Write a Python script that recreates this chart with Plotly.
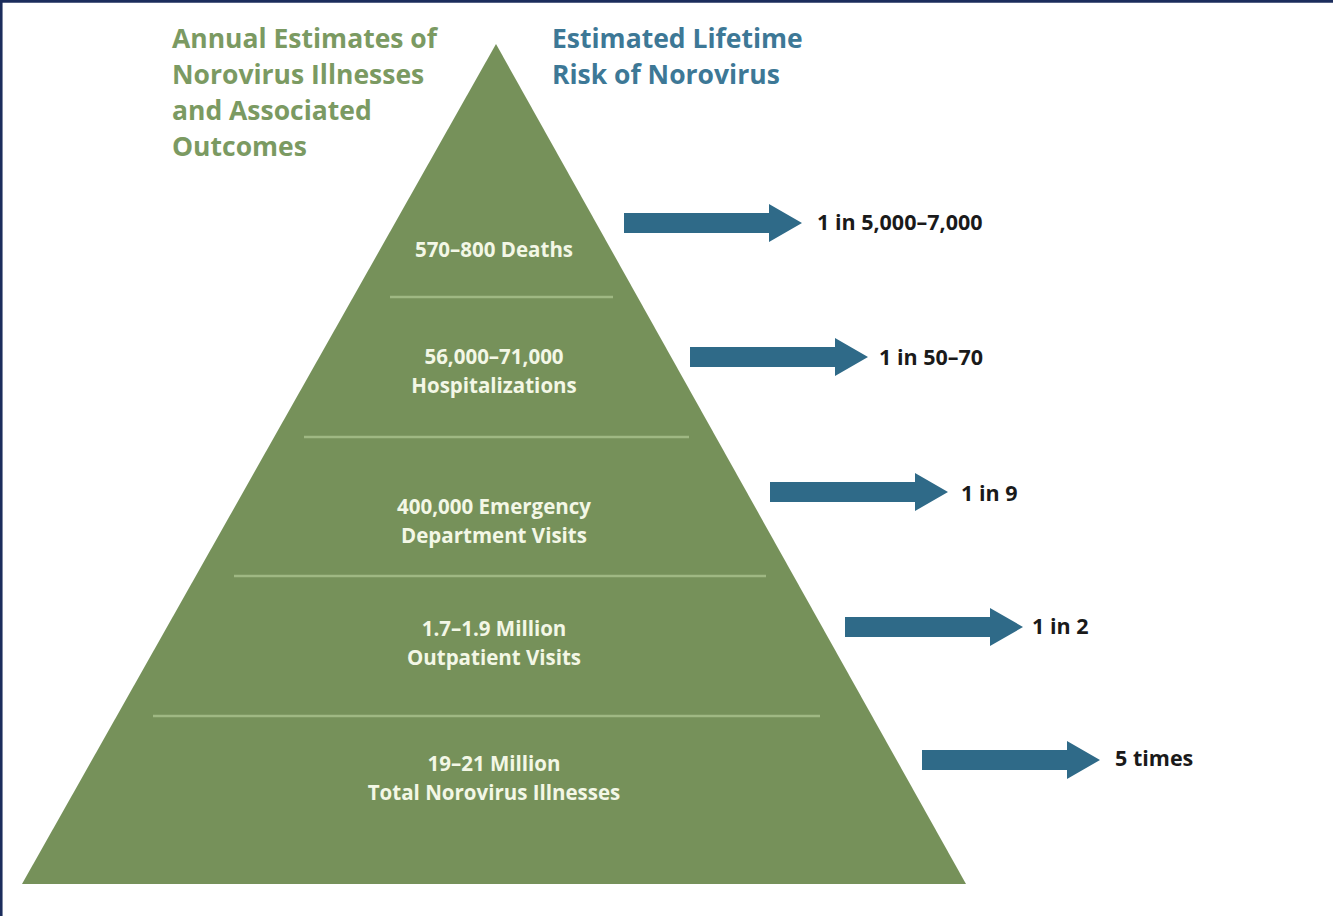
import plotly.graph_objects as go

# ---- data ----
outcome_labels = [
    "570–800 Deaths",
    "56,000–71,000<br>Hospitalizations",
    "400,000 Emergency<br>Department Visits",
    "1.7–1.9 Million<br>Outpatient Visits",
    "19–21 Million<br>Total Norovirus Illnesses",
]
risk_labels = ["1 in 5,000–7,000", "1 in 50–70", "1 in 9", "1 in 2", "5 times"]
left_title = "Annual Estimates of<br>Norovirus Illnesses<br>and Associated<br>Outcomes"
right_title = "Estimated Lifetime<br>Risk of Norovirus"

# ---- layout geometry (pixel space) ----
W, H = 1333, 916
apex = (496, 44)
base_y = 884
base_l, base_r = 22, 966
label_y = [251.5, 373, 523.5, 645, 780.5]
label_gap = 29
divider_y = [297, 437, 576, 716]
divider_x0 = [390, 304, 234, 153]
divider_x1 = [613, 689, 766, 820]
arrow_y = [223, 357, 492, 627, 760]
arrow_x0 = [624, 690, 770, 845, 922]
arrow_len = 178
risk_x = [817, 879, 961, 1032, 1115]
risk_y = [225, 360, 496, 629, 761]
title_gap = 36

GREEN = "#76915a"
LINE = "#9fb883"
BLUE = "#2f6a88"
FONT = "Open Sans"

fig = go.Figure()

# pyramid
fig.add_trace(go.Scatter(
    x=[apex[0], base_r, base_l, apex[0]], y=[apex[1], base_y, base_y, apex[1]],
    fill="toself", fillcolor=GREEN, mode="lines", line=dict(width=0, color=GREEN),
    hoverinfo="skip", showlegend=False))

# dividers
for y, xa, xb in zip(divider_y, divider_x0, divider_x1):
    fig.add_trace(go.Scatter(
        x=[xa, xb], y=[y, y], mode="lines",
        line=dict(color=LINE, width=2.5), hoverinfo="skip", showlegend=False))

# arrows
shaft_h, head_h, head_len = 20, 38, 33
for x0, y in zip(arrow_x0, arrow_y):
    x1 = x0 + arrow_len
    xs = [x0, x1 - head_len, x1 - head_len, x1, x1 - head_len, x1 - head_len, x0, x0]
    ys = [y - shaft_h / 2, y - shaft_h / 2, y - head_h / 2, y, y + head_h / 2,
          y + shaft_h / 2, y + shaft_h / 2, y - shaft_h / 2]
    fig.add_trace(go.Scatter(x=xs, y=ys, fill="toself", fillcolor=BLUE, mode="lines",
                             line=dict(width=0, color=BLUE), hoverinfo="skip",
                             showlegend=False))

# pyramid labels (one text per line, to control line spacing)
lx, ly, lt = [], [], []
for yc, lab in zip(label_y, outcome_labels):
    parts = lab.split("<br>")
    n = len(parts)
    for i, p in enumerate(parts):
        lx.append(494)
        ly.append(yc + (i - (n - 1) / 2) * label_gap)
        lt.append(p)
fig.add_trace(go.Scatter(
    x=lx, y=ly, mode="text", text=lt,
    textfont=dict(family=FONT, size=20.5, color="#f3f7e6", weight="bold"),
    textposition="middle center", hoverinfo="skip", showlegend=False))

# risk labels
fig.add_trace(go.Scatter(
    x=risk_x, y=risk_y, mode="text", text=risk_labels,
    textfont=dict(family=FONT, size=21.5, color="#1a1a1a", weight="bold"),
    textposition="middle right", hoverinfo="skip", showlegend=False))

annots = []
for x0, title, col in [(170, left_title, "#7b9a62"), (550, right_title, "#3d7896")]:
    for i, line in enumerate(title.split("<br>")):
        annots.append(dict(x=x0, y=38 + i * title_gap, text=line, xanchor="left",
                           yanchor="middle", align="left", xref="x", yref="y",
                           showarrow=False,
                           font=dict(family=FONT, size=26.5, color=col, weight="bold")))

fig.update_layout(
    width=W, height=H, margin=dict(l=0, r=0, t=0, b=0),
    paper_bgcolor="white", plot_bgcolor="white",
    xaxis=dict(range=[0, W], visible=False, fixedrange=True),
    yaxis=dict(range=[H, 0], visible=False, fixedrange=True),
    annotations=annots,
    shapes=[
        dict(type="line", xref="paper", yref="paper", x0=0, x1=1, y0=0.9985, y1=0.9985,
             line=dict(color="#1b2d5c", width=3)),
        dict(type="line", xref="paper", yref="paper", x0=0.0008, x1=0.0008, y0=0, y1=1,
             line=dict(color="#1b2d5c", width=3)),
    ],
)

fig.write_html("out.html")
